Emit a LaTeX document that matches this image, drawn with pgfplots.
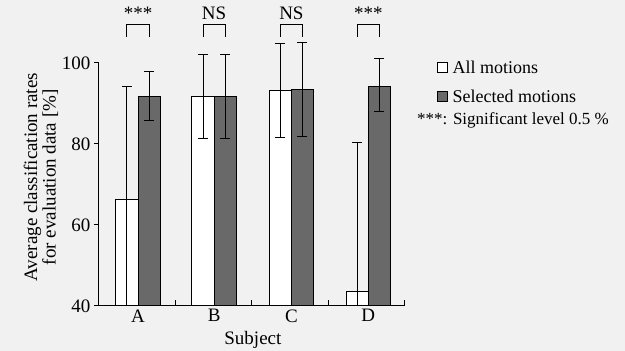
\documentclass[border=0pt]{standalone}
\usepackage{pgfplots}
\pgfplotsset{compat=1.18}
\usepackage{fontspec}
\setmainfont{Liberation Serif}
\definecolor{bg}{RGB}{241,241,241}
\definecolor{barg}{RGB}{105,105,105}
\begin{document}
\begin{tikzpicture}
\fill[bg] (-99pt,-45pt) rectangle (526pt,306pt);
\path[use as bounding box] (-99pt,-45pt) rectangle (526pt,306pt);
\begin{axis}[
  at={(0pt,0pt)}, anchor=south west,
  width=306pt, height=243pt, scale only axis,
  xmin=0, xmax=4, ymin=40, ymax=100,
  axis x line*=bottom, axis y line*=left,
  axis line style={-, line width=1pt},
  clip=false,
  ybar=0pt, bar width=0.29,
  xtick={0.51,1.505,2.515,3.52}, xticklabels={A,B,C,D},
  major x tick style={draw=none},
  minor xtick={1,2,3,4},
  minor tick length=6pt,
  xtick align=inside,
  ytick={40,60,80,100}, ytick align=outside,
  major tick length=5pt,
  tick style={black, line width=1pt},
  /pgf/number format/assume math mode=true,
  ticklabel style={font=\fontsize{19}{19}\selectfont},
  xlabel={Subject},
  ylabel={Average classification rates\\for evaluation data [\%]},
  label style={font=\fontsize{19}{16.5}\selectfont},
  ylabel style={align=center, at={(axis description cs:-0.19,0.53)}, anchor=center},
  xlabel style={at={(axis description cs:0.503,-0.14)}, anchor=center},
  error bars/y dir=both, error bars/y explicit,
  error bars/error bar style={line width=1pt, black},
  error bars/error mark options={rotate=90, mark size=5pt, line width=1pt, black},
  legend style={at={(axis description cs:1.1036,1.018)}, anchor=north west, draw=none, fill=none,
    font=\fontsize{18}{18}\selectfont, row sep=11pt, inner sep=0pt,
    nodes={inner xsep=5pt}},
  legend cell align=left,
  legend image code/.code={\draw[#1, line width=0.8pt] (0pt,-5pt) rectangle (10pt,5pt);},
]
\addplot[draw=black, line width=1pt, fill=white] coordinates {
  (0.51,66.3) += (0,27.8) -= (0,26.3)
  (1.505,91.7) +- (0,10.4)
  (2.515,93.3) +- (0,11.6)
  (3.52,43.7) += (0,36.7) -= (0,3.7)
};
\addlegendentry{All motions}
\addplot[draw=black, line width=1pt, fill=barg] coordinates {
  (0.51,91.7) += (0,6.1) -= (0,5.8)
  (1.505,91.7) +- (0,10.4)
  (2.515,93.4) +- (0,11.6)
  (3.52,94.3) += (0,6.7) -= (0,6.3)
};
\addlegendentry{Selected motions}
% significance brackets
\draw[line width=1pt] (axis cs:0.365,106.5) -- (axis cs:0.365,109.6) -- (axis cs:0.655,109.6) -- (axis cs:0.655,106.5);
\draw[line width=1pt] (axis cs:1.36,106.5) -- (axis cs:1.36,109.6) -- (axis cs:1.65,109.6) -- (axis cs:1.65,106.5);
\draw[line width=1pt] (axis cs:2.37,106.5) -- (axis cs:2.37,109.6) -- (axis cs:2.66,109.6) -- (axis cs:2.66,106.5);
\draw[line width=1pt] (axis cs:3.375,106.5) -- (axis cs:3.375,109.6) -- (axis cs:3.665,109.6) -- (axis cs:3.665,106.5);
\node[font=\fontsize{19}{19}\selectfont, inner sep=0pt] at (axis cs:0.51,112.2) {***};
\node[font=\fontsize{19}{19}\selectfont, inner sep=0pt] at (axis cs:1.505,112.2) {NS};
\node[font=\fontsize{19}{19}\selectfont, inner sep=0pt] at (axis cs:2.515,112.2) {NS};
\node[font=\fontsize{19}{19}\selectfont, inner sep=0pt] at (axis cs:3.52,112.2) {***};
\node[anchor=base west, font=\fontsize{17}{17}\selectfont, inner sep=0pt] at (axis description cs:1.039,0.748) {***: Significant level 0.5 \%};
\end{axis}
\end{tikzpicture}
\end{document}
